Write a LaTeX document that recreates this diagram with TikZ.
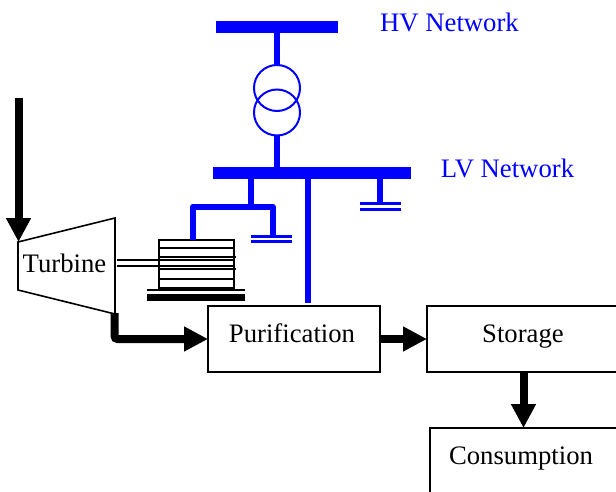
\documentclass[tikz,border=0pt]{standalone}
\usepackage{fontspec}
\setmainfont{Liberation Serif}
\usetikzlibrary{arrows.meta}
\definecolor{busblue}{RGB}{0,0,255}
\tikzset{
  x=1pt,y=-1pt,
  box/.style={draw=black,line width=1.5pt,rectangle,inner sep=0pt,outer sep=0pt},
  lbl/.style={font=\fontsize{26.7}{28}\selectfont,inner sep=0pt,outer sep=0pt,anchor=base},
  bluelbl/.style={lbl,text=busblue},
  flow/.style={draw=black,line width=8pt,-{Triangle[length=24pt,width=23.5pt]}},
  busbar/.style={fill=busblue,draw=none},
  feeder/.style={draw=busblue,line width=6pt},
  coil/.style={draw=busblue,line width=2pt,circle,minimum size=46pt,inner sep=0pt,outer sep=0pt},
  gnd/.style={fill=busblue,draw=none},
  gen/.style={draw=black,line width=1.6pt},
}
\begin{document}
\begin{tikzpicture}
\useasboundingbox (0,0) rectangle (616,492);
\clip (0,0) rectangle (616,492);
% boxes
\node[box,minimum width=172pt,minimum height=66pt] (purif) at (294,339) {};
\node[box,minimum width=196pt,minimum height=66pt] (stor) at (525,339) {};
\node[box,minimum width=200pt,minimum height=100pt] (cons) at (530,478) {};
\node[lbl] (tpurif) at (292,342.5) {Purification};
\node[lbl] (tstor) at (523,342.5) {Storage};
\node[lbl] (tcons) at (521,464.5) {Consumption};
% turbine
\coordinate (tl) at (18,242);
\coordinate (tr) at (115,218);
\coordinate (br) at (115,314);
\coordinate (bl) at (18,290);
\coordinate (tout) at (114.5,313);
\coordinate (tin) at (18.5,98);
\coordinate (tintip) at (18.5,242);
\draw[gen] (tl) -- (tr) -- (br) -- (bl) -- cycle;
\node[lbl] (tturb) at (64.5,272.5) {Turbine};
% flows
\draw[flow] (tin) -- (tintip);
\draw[flow,rounded corners=3pt] (tout) |- (purif.west);
\draw[flow] (purif.east) -- (stor.west);
\coordinate (cin) at (523.5,428);
\coordinate (sout) at (523.5,372);
\draw[flow] (sout) -- (cin);
% generator
\node[box,minimum width=75pt,minimum height=48pt] (genbox) at (196.5,264) {};
\draw[gen] (159,248) -- (234,248);
\draw[gen] (160,257) -- (236,257);
\draw[gen] (160,269) -- (236,269);
\draw[gen] (159,279) -- (234,279);
\draw[gen,line width=2.2pt] (117,260) -- (235,260);
\draw[gen,line width=2.2pt] (117,265.7) -- (235,265.7);
\fill[black] (147,288.5) rectangle (245,291);
\fill[black] (147,294) rectangle (245,300.5);
% network
\node[busbar,minimum width=122pt,minimum height=12pt,inner sep=0pt,outer sep=0pt] (hv) at (277,27) {};
\node[busbar,minimum width=198pt,minimum height=12pt,inner sep=0pt,outer sep=0pt] (lv) at (312,173) {};
\node[coil] (c1) at (277,88) {};
\node[coil] (c2) at (277,112.5) {};
\draw[feeder] (c1.north) -- (c1.north |- hv.south);
\draw[feeder] (c2.south) -- (c2.south |- lv.north);
\coordinate (s1) at (251,179);
\coordinate (s2) at (308,179);
\coordinate (s3) at (380,179);
\coordinate (g1) at (251,207);
\coordinate (s2end) at (308,303);
\draw[feeder] (s1) -- (g1);
\draw[feeder] (s2) -- (s2end);
\draw[feeder] (s3) -- (380,203);
\draw[feeder,line join=round] (193,240) -- (193,206.5) -- (272.5,206.5) -- (272.5,236);
\fill[gnd] (360,202) rectangle (401,205);
\fill[gnd] (360,207.5) rectangle (401,210.5);
\fill[gnd] (251,235) rectangle (292,238);
\fill[gnd] (251,240) rectangle (292,243);
\node[bluelbl] (thv) at (449.5,31.5) {HV Network};
\node[bluelbl] (tlv) at (507.5,177.5) {LV Network};
\end{tikzpicture}
\end{document}
